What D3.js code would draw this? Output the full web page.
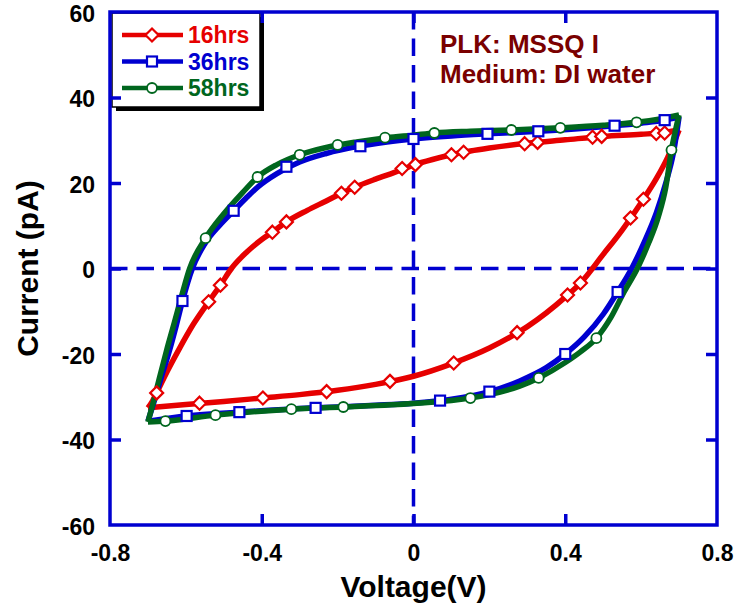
<!DOCTYPE html>
<html>
<head>
<meta charset="utf-8">
<script src="https://cdn.jsdelivr.net/npm/d3@7"></script>
<style>
  html, body { margin: 0; padding: 0; background: #ffffff; }
  svg { display: block; }
  text { font-family: "Liberation Sans", Arial, sans-serif; font-weight: bold; }
</style>
</head>
<body>
<svg id="chart" width="739" height="604"></svg>
<script>
// ---- axis setup ----
const xTicks = [-0.8, -0.4, 0, 0.4, 0.8];
const xTickLabels = ["-0.8", "-0.4", "0", "0.4", "0.8"];
const yTicks = [-60, -40, -20, 0, 20, 40, 60];
const yTickLabels = ["-60", "-40", "-20", "0", "20", "40", "60"];

const seriesNames = ["16hrs", "36hrs", "58hrs"];

// ---- I-V loops: [voltage (V), current (pA)] ----
// 16 hrs
const upper16 = [[-0.70,-32.6],[-0.688,-31.0],[-0.677,-29.1],[-0.65,-24.2],[-0.62,-19.2],[-0.58,-13.0],[-0.54,-7.8],[-0.509,-3.9],[-0.48,0],[-0.44,3.8],[-0.40,6.8],[-0.372,8.5],[-0.335,10.9],[-0.28,13.6],[-0.23,15.8],[-0.19,17.6],[-0.155,19.0],[-0.10,20.9],[-0.05,22.5],[0,24.2],[0.05,25.5],[0.10,26.6],[0.15,27.5],[0.20,28.2],[0.30,29.3],[0.40,30.1],[0.50,30.9],[0.60,31.4],[0.66,31.8],[0.70,32.4]];
const lower16 = [[-0.70,-32.6],[-0.60,-31.8],[-0.50,-31.1],[-0.40,-30.3],[-0.30,-29.5],[-0.20,-28.5],[-0.10,-27.1],[0.0,-25.2],[0.10,-22.3],[0.20,-18.6],[0.30,-13.6],[0.40,-6.7],[0.44,-3.4],[0.50,3.3],[0.55,9.0],[0.60,15.4],[0.64,21.0],[0.67,26.0],[0.70,32.4]];
const marks16 = [[-0.677,-29.1],[-0.540,-7.8],[-0.509,-3.9],[-0.372,8.5],[-0.335,10.9],[-0.19,17.6],[-0.155,19.0],[-0.03,23.4],[0.005,24.3],[0.10,26.6],[0.132,27.2],[0.293,29.2],[0.327,29.5],[0.472,30.7],[0.496,30.9],[0.640,31.6],[0.662,31.7],
                 [-0.564,-31.5],[-0.397,-30.3],[-0.229,-28.8],[-0.062,-26.4],[0.106,-22.1],[0.273,-15.0],[0.406,-6.2],[0.44,-3.4],[0.572,11.8],[0.606,16.2]];

// 36 hrs
const upper36 = [[-0.70,-35.7],[-0.685,-31.5],[-0.665,-25.5],[-0.643,-19.1],[-0.625,-13.2],[-0.609,-7.6],[-0.583,0],[-0.55,5.8],[-0.51,10.2],[-0.474,13.5],[-0.44,16.6],[-0.41,19.1],[-0.36,22.2],[-0.30,24.9],[-0.23,26.9],[-0.15,28.5],[-0.07,29.6],[0,30.3],[0.10,31.0],[0.195,31.5],[0.33,32.1],[0.45,32.8],[0.53,33.4],[0.60,34.0],[0.662,34.7],[0.70,35.5]];
const lower36 = [[-0.70,-35.7],[-0.598,-34.5],[-0.459,-33.6],[-0.258,-32.6],[-0.10,-32.0],[0,-31.5],[0.10,-30.6],[0.20,-28.8],[0.28,-26.3],[0.35,-23.2],[0.40,-20.0],[0.45,-16.0],[0.50,-10.7],[0.538,-5.5],[0.575,0],[0.61,6.5],[0.64,13.0],[0.665,20.0],[0.685,27.0],[0.70,35.5]];
const marks36 = [[-0.609,-7.6],[-0.474,13.5],[-0.335,23.8],[-0.14,28.6],[0.0,30.3],[0.195,31.5],[0.329,32.1],[0.530,33.4],[0.662,34.7],
                 [-0.598,-34.5],[-0.459,-33.6],[-0.258,-32.6],[0.07,-30.9],[0.20,-28.8],[0.40,-20.0],[0.538,-5.5]];

// 58 hrs
const upper58 = [[-0.70,-35.9],[-0.685,-31.0],[-0.668,-25.0],[-0.651,-19.2],[-0.63,-12.5],[-0.61,-6.0],[-0.59,0],[-0.548,7.1],[-0.50,12.8],[-0.45,17.8],[-0.411,21.4],[-0.36,24.3],[-0.30,26.6],[-0.23,28.3],[-0.15,29.6],[-0.07,30.6],[0.0,31.2],[0.055,31.7],[0.15,32.1],[0.258,32.4],[0.387,32.9],[0.50,33.5],[0.588,34.2],[0.65,35.0],[0.70,35.9]];
const lower58 = [[-0.70,-35.9],[-0.654,-35.7],[-0.522,-34.3],[-0.322,-32.9],[-0.185,-32.4],[0,-31.6],[0.10,-30.9],[0.20,-29.5],[0.28,-27.5],[0.33,-25.6],[0.40,-22.0],[0.44,-19.5],[0.482,-16.3],[0.52,-11.5],[0.555,-5.5],[0.59,0],[0.62,6.0],[0.645,12.0],[0.665,19.0],[0.68,27.7],[0.70,35.9]];
const marks58 = [[-0.548,7.1],[-0.411,21.4],[-0.30,26.6],[-0.20,28.9],[-0.075,30.6],[0.055,31.7],[0.258,32.4],[0.387,32.9],[0.588,34.2],
                 [-0.654,-35.7],[-0.522,-34.3],[-0.322,-32.9],[-0.185,-32.4],[0.15,-30.3],[0.33,-25.6],[0.482,-16.3],[0.68,27.7]];

// ---- styles ----
const AXIS_BLUE = "#0000d0";
const colors = { "16hrs": "#e60000", "36hrs": "#0000d0", "58hrs": "#00661e" };
const NOTE_COLOR = "#7a0000";

const series = [
  { name: "16hrs", upper: upper16, lower: lower16, marks: marks16, symbol: "diamond" },
  { name: "36hrs", upper: upper36, lower: lower36, marks: marks36, symbol: "square" },
  { name: "58hrs", upper: upper58, lower: lower58, marks: marks58, symbol: "circle" }
];

const svg = d3.select("#chart");
const plot = { left: 110, right: 717, top: 12, bottom: 525 };

const x = d3.scaleLinear().domain([-0.8, 0.8]).range([plot.left, plot.right]);
const y = d3.scaleLinear().domain([-60, 60]).range([plot.bottom, plot.top]);

// zero reference lines (dashed)
svg.append("line")
  .attr("x1", x(0)).attr("x2", x(0)).attr("y1", plot.top).attr("y2", plot.bottom)
  .attr("stroke", AXIS_BLUE).attr("stroke-width", 3.5).attr("stroke-dasharray", "17.5,9");
svg.append("line")
  .attr("x1", plot.left).attr("x2", plot.right).attr("y1", y(0)).attr("y2", y(0))
  .attr("stroke", AXIS_BLUE).attr("stroke-width", 3.5).attr("stroke-dasharray", "17.5,9");

// loop lines
const line = d3.line().x(d => x(d[0])).y(d => y(d[1])).curve(d3.curveMonotoneX);
const curves = svg.append("g");
series.forEach(s => {
  [s.upper, s.lower].forEach(branch => {
    curves.append("path")
      .attr("d", line(branch))
      .attr("fill", "none")
      .attr("stroke", colors[s.name])
      .attr("stroke-width", 5.5)
      .attr("stroke-linejoin", "round");
  });
});

// marker shapes
function drawMarker(g, type, cx, cy, color) {
  if (type === "diamond") {
    const r = 6.5;
    g.append("path")
      .attr("d", `M${cx},${cy - r}L${cx + r},${cy}L${cx},${cy + r}L${cx - r},${cy}Z`)
      .attr("fill", "#fff").attr("stroke", color).attr("stroke-width", 2.2);
  } else if (type === "square") {
    const h = 5;
    g.append("rect")
      .attr("x", cx - h).attr("y", cy - h).attr("width", 2 * h).attr("height", 2 * h)
      .attr("fill", "#fff").attr("stroke", color).attr("stroke-width", 2.2);
  } else {
    g.append("circle")
      .attr("cx", cx).attr("cy", cy).attr("r", 5)
      .attr("fill", "#fff").attr("stroke", color).attr("stroke-width", 1.8);
  }
}

const markers = svg.append("g");
series.forEach(s => {
  s.marks.forEach(d => drawMarker(markers, s.symbol, x(d[0]), y(d[1]), colors[s.name]));
});

// legend
const legend = svg.append("g");
legend.append("rect").attr("x", 116).attr("y", 17).attr("width", 148).attr("height", 94).attr("fill", "#000");
legend.append("rect").attr("x", 112).attr("y", 13).attr("width", 148).attr("height", 94)
  .attr("fill", "#fff").attr("stroke", "#000").attr("stroke-width", 1.5);
series.forEach((s, i) => {
  const cy = 35 + i * 26.5;
  legend.append("line").attr("x1", 122).attr("x2", 183).attr("y1", cy).attr("y2", cy)
    .attr("stroke", colors[s.name]).attr("stroke-width", 4.5);
  drawMarker(legend, s.symbol, 152, cy, colors[s.name]);
  legend.append("text").attr("x", 188).attr("y", cy + 8)
    .attr("fill", colors[s.name]).attr("font-size", 23).text(seriesNames[i]);
});

// annotation
svg.append("text").attr("x", 440).attr("y", 53).attr("fill", NOTE_COLOR).attr("font-size", 26).text("PLK: MSSQ I");
svg.append("text").attr("x", 440).attr("y", 83).attr("fill", NOTE_COLOR).attr("font-size", 26).text("Medium: DI water");

// axes with inward ticks on all four sides
function styleAxis(g) {
  g.select(".domain").remove();
  g.selectAll(".tick line").attr("stroke", AXIS_BLUE).attr("stroke-width", 3.5);
  g.selectAll(".tick text").attr("fill", "#000").attr("font-size", 23)
    .attr("font-family", "'Liberation Sans', Arial, sans-serif").attr("font-weight", "bold");
}
const xInner = xTicks.slice(1, -1);
const yInner = yTicks.slice(1, -1);

svg.append("g").attr("transform", `translate(0,${plot.bottom})`)
  .call(d3.axisBottom(x).tickValues(xTicks).tickSizeInner(0).tickSizeOuter(0).tickPadding(20)
    .tickFormat((d, i) => xTickLabels[i]))
  .call(styleAxis);
svg.append("g").attr("transform", `translate(${plot.left},0)`)
  .call(d3.axisLeft(y).tickValues(yTicks).tickSizeInner(0).tickSizeOuter(0).tickPadding(15)
    .tickFormat((d, i) => yTickLabels[i]))
  .call(styleAxis)
  .call(g => g.selectAll(".tick text").attr("dy", "0.4em"));

// tick marks (inner positions only)
svg.append("g").attr("transform", `translate(0,${plot.bottom})`)
  .call(d3.axisBottom(x).tickValues(xInner).tickSizeInner(-11).tickSizeOuter(0).tickFormat(""))
  .call(styleAxis);
svg.append("g").attr("transform", `translate(0,${plot.top})`)
  .call(d3.axisTop(x).tickValues(xInner).tickSizeInner(-11).tickSizeOuter(0).tickFormat(""))
  .call(styleAxis);
svg.append("g").attr("transform", `translate(${plot.left},0)`)
  .call(d3.axisLeft(y).tickValues(yInner).tickSizeInner(-11).tickSizeOuter(0).tickFormat(""))
  .call(styleAxis);
svg.append("g").attr("transform", `translate(${plot.right},0)`)
  .call(d3.axisRight(y).tickValues(yInner).tickSizeInner(-11).tickSizeOuter(0).tickFormat(""))
  .call(styleAxis);

// frame
svg.append("rect")
  .attr("x", plot.left).attr("y", plot.top)
  .attr("width", plot.right - plot.left).attr("height", plot.bottom - plot.top)
  .attr("fill", "none").attr("stroke", AXIS_BLUE).attr("stroke-width", 3.5);

// axis titles
svg.append("text").attr("x", x(0)).attr("y", 597).attr("text-anchor", "middle")
  .attr("font-size", 30).attr("fill", "#000").text("Voltage(V)");
svg.append("text").attr("transform", `translate(38,${y(0)}) rotate(-90)`)
  .attr("text-anchor", "middle").attr("font-size", 30).attr("fill", "#000").text("Current (pA)");
</script>
</body>
</html>
